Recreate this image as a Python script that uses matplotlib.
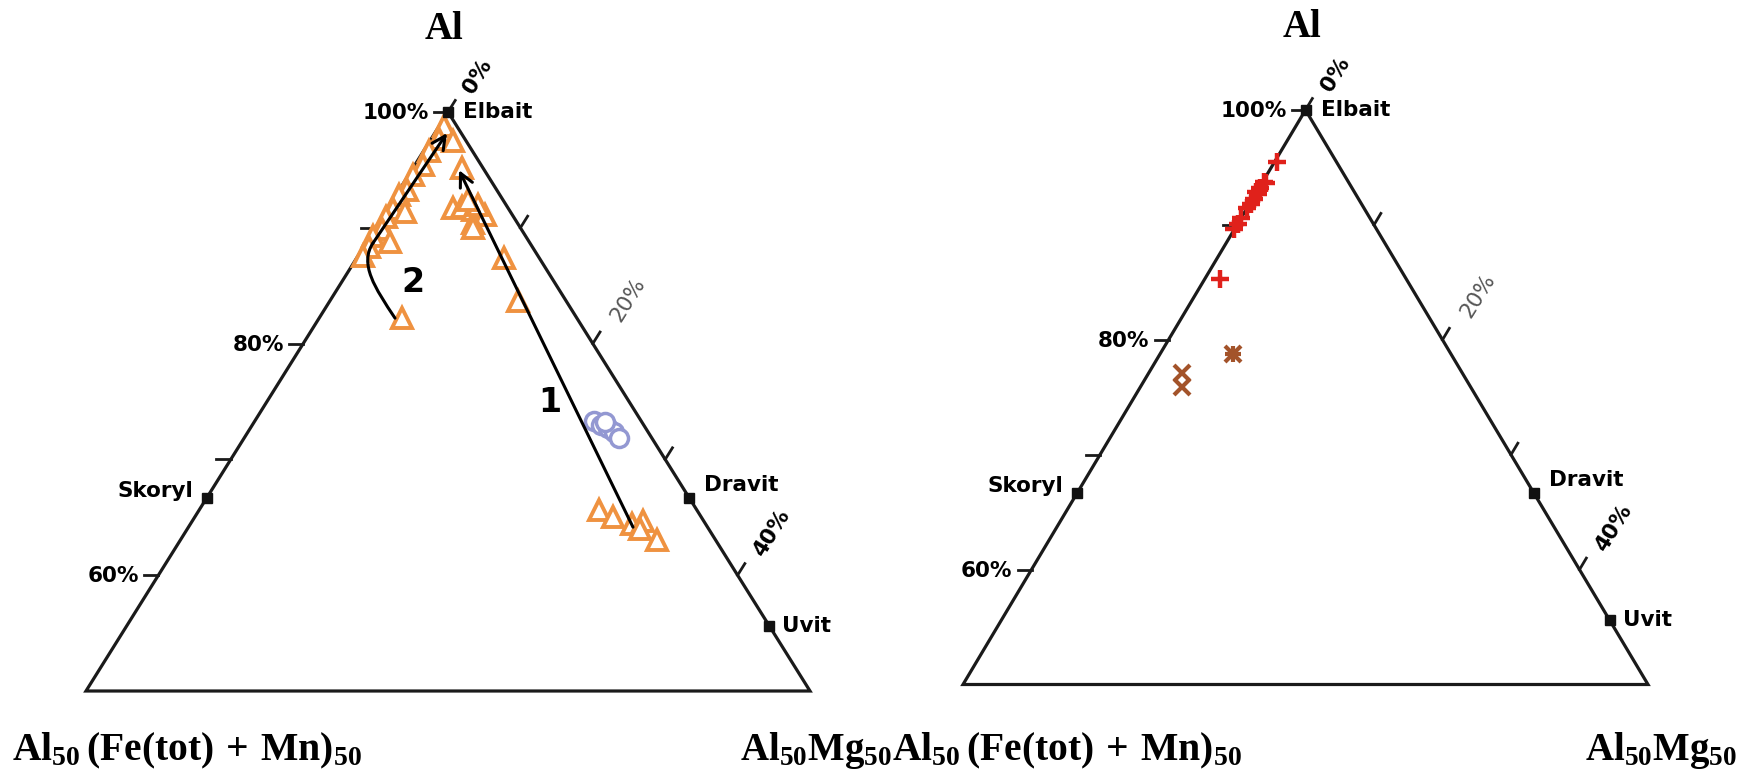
import numpy as np
import matplotlib.pyplot as plt
from matplotlib.path import Path
from matplotlib.patches import PathPatch

plt.rcParams['mathtext.fontset'] = 'custom'
plt.rcParams['mathtext.rm'] = 'Liberation Serif:bold'
plt.rcParams['mathtext.it'] = 'Liberation Serif:bold'
plt.rcParams['mathtext.bf'] = 'Liberation Serif:bold'

# compositions in % : Fe(tot)+Mn and Mg, Al = 100 - Fe - Mg
# apex = Al, bottom left = Al50(Fe+Mn)50, bottom right = Al50Mg50
end_names = ['Elbait', 'Skoryl', 'Dravit', 'Uvit']
end_fe = [0, 33.3, 0, 0]
end_mg = [0, 0, 33.3, 44.4]

# left diagram - orange triangles
tri_fe = [0.9, 1.8, 3.0, 4.0, 5.1, 6.2, 7.0, 8.0, 8.8, 9.6, 10.5, 11.3, 12.1,
          7.3, 9.6, 0.9, 12.1,
          1.45, 3.8, 3.1, 2.5, 1.9, 3.1, 3.3, 1.9, 2.4, 2.4, 3.3,
          6.75, 6.1, 5.1, 4.2, 4.05, 4.75]
tri_mg = [0.3, 0.5, 0.4, 0.6, 0.3, 0.5, 0.2, 0.4, 0.3, 0.5, 0.2, 0.4, 0.3,
          1.35, 1.6, 1.6, 5.7,
          3.4, 4.5, 5.1, 6.0, 7.0, 6.5, 6.7, 6.1, 5.2, 10.2, 13.0,
          27.6, 28.9, 30.5, 31.1, 32.9, 31.3]
# left diagram - blue circles
circ_fe = [3.26, 2.95, 2.6, 2.35, 2.27, 2.54]
circ_mg = [23.4, 24.1, 24.7, 25.3, 25.9, 24.2]

# trend arrows (left)
arrow1_fe = [5.15, 1.75]
arrow1_mg = [30.7, 3.27]
arrow2_fe = [12.56, 12.64, 12.71, 10.84, 0.98]
arrow2_mg = [5.24, 2.56, 0.42, 0.48, 0.84]
num_labels = ['1', '2']
num_fe = [5.5, 9.8]
num_mg = [19.6, 4.9]

# right diagram
plus_fe = [4.35, 6.15, 6.07, 6.67, 7.08, 7.17, 7.62, 8.1, 8.5, 9.44, 9.88, 10.4, 13.6]
plus_mg = [0.2, 0.1, 0.3, 0.1, 0.2, 0.0, 0.1, 0.1, 0.0, 0.0, 0.0, 0.0, 1.1]
cross_fe = [20.5, 21.1, 15.9]
cross_mg = [2.4, 3.05, 5.3]
star_fe = [15.9]
star_mg = [5.3]

tick_vals = [0, 10, 20, 30, 40]
left_labels = {0: '100%', 20: '80%', 40: '60%'}
right_labels = {0: '0%', 20: '20%', 40: '40%'}


def tern(fe, mg):
    fe = np.asarray(fe, dtype=float) / 50.
    mg = np.asarray(mg, dtype=float) / 50.
    return 0.5 + 0.5 * (mg - fe), 1 - fe - mg


orange = '#EF9240'
blue = '#9398D2'
red = '#E0211B'
brown = '#A3532A'
sans = 'DejaVu Sans'

fig = plt.figure(figsize=(17.39, 7.75), dpi=100)
axL = fig.add_axes([86/1739, 84/775, 724/1739, 579/775])
axR = fig.add_axes([963/1739, 90.5/775, 685/1739, 574.5/775])


def frame(ax):
    ax.set_xlim(0, 1)
    ax.set_ylim(0, 1)
    ax.axis('off')
    x, y = tern([0, 50, 0, 0], [0, 0, 50, 0])
    ax.plot(x, y, color='#1a1a1a', lw=2.3, solid_joinstyle='miter', zorder=1, clip_on=False)
    d = 1.0
    for t in tick_vals:
        # left edge ticks (horizontal, outwards)
        x, y = tern([t, t + d], [0, -d])
        ax.plot(x, y, color='#1a1a1a', lw=2.0, zorder=1, clip_on=False)
        # right edge ticks (parallel to left edge)
        x, y = tern([0, -d], [t, t])
        ax.plot(x, y, color='#1a1a1a', lw=2.0, zorder=1, clip_on=False)
    for t, lab in left_labels.items():
        ax.annotate(lab, tern(t, 0), xytext=(-19, -1), textcoords='offset pixels',
                    ha='right', va='center', fontsize=15.5, fontweight='bold', family=sans)
    offs = {0: (30, 36), 20: (35, 44), 40: (34, 42)}
    for t, lab in right_labels.items():
        light = (t == 20)
        ax.annotate(lab, tern(0, t), xytext=offs[t], textcoords='offset pixels',
                    ha='center', va='center', rotation=58, rotation_mode='anchor',
                    fontsize=15.5, fontweight='normal' if light else 'bold',
                    color='#555555' if light else 'black', family=sans)
    x, y = tern(end_fe, end_mg)
    ax.plot(x, y, 's', color='#111111', ms=7, zorder=5, clip_on=False)
    name_offs = [(15, 0, 'left'), (-14, 7, 'right'), (15, 13, 'left'), (13, 0, 'left')]
    for i, name in enumerate(end_names):
        dx, dy, ha = name_offs[i]
        ax.annotate(name, (x[i], y[i]), xytext=(dx, dy), textcoords='offset pixels',
                    ha=ha, va='center', fontsize=15.5, fontweight='bold', family=sans)
    ax.annotate('Al', tern(0, 0), xytext=(-4, 73), textcoords='offset pixels',
                ha='center', va='baseline', fontsize=28, fontweight='bold',
                family='Liberation Serif')


frame(axL)
frame(axR)

# left data
x, y = tern(tri_fe, tri_mg)
axL.plot(x, y, '^', ms=15, mfc='white', mec=orange, mew=2.8, ls='none', zorder=2, clip_on=False)
x, y = tern(circ_fe, circ_mg)
axL.plot(x, y, 'o', ms=13, mfc='white', mec=blue, mew=2.5, ls='none', zorder=2, clip_on=False)

# arrows
ax1, ay1 = tern(arrow1_fe, arrow1_mg)
axL.annotate('', xy=(ax1[1], ay1[1]), xytext=(ax1[0], ay1[0]),
             arrowprops=dict(arrowstyle='->', lw=2.2, color='black', mutation_scale=24,
                             shrinkA=0, shrinkB=0), zorder=4)
ax2, ay2 = tern(arrow2_fe, arrow2_mg)
curve = Path(list(zip(ax2[:4], ay2[:4])), [Path.MOVETO, Path.CURVE4, Path.CURVE4, Path.CURVE4])
axL.add_patch(PathPatch(curve, fill=False, lw=2.2, color='black', zorder=4, capstyle='round'))
axL.annotate('', xy=(ax2[4], ay2[4]), xytext=(ax2[3], ay2[3]),
             arrowprops=dict(arrowstyle='->', lw=2.2, color='black', mutation_scale=24,
                             shrinkA=0, shrinkB=0), zorder=4)
x, y = tern(num_fe, num_mg)
for i, lab in enumerate(num_labels):
    axL.text(x[i], y[i], lab, ha='center', va='center', fontsize=24, fontweight='bold', family=sans)

# right data
x, y = tern(plus_fe, plus_mg)
axR.plot(x, y, '+', ms=13, mec=red, mew=3.2, ls='none', zorder=2, clip_on=False)
x, y = tern(cross_fe, cross_mg)
axR.plot(x, y, 'x', ms=12, mec=brown, mew=3.0, ls='none', zorder=2, clip_on=False)
x, y = tern(star_fe, star_mg)
axR.plot(x, y, '+', ms=12, mec=brown, mew=3.0, ls='none', zorder=2, clip_on=False)

# corner labels
lab_fe = r'$\mathrm{Al_{50}\,(Fe(tot)\,+\,Mn)_{50}}$'
lab_mg = r'$\mathrm{Al_{50}Mg_{50}}$'
fig.text(12/1739, 15/775, lab_fe, ha='left', va='baseline', fontsize=28.5)
fig.text(740/1739, 15/775, lab_mg, ha='left', va='baseline', fontsize=28)
fig.text(892/1739, 15/775, lab_fe, ha='left', va='baseline', fontsize=28.5)
fig.text(1737/1739, 15/775, lab_mg, ha='right', va='baseline', fontsize=28)

fig.savefig('out.png', dpi=100)
